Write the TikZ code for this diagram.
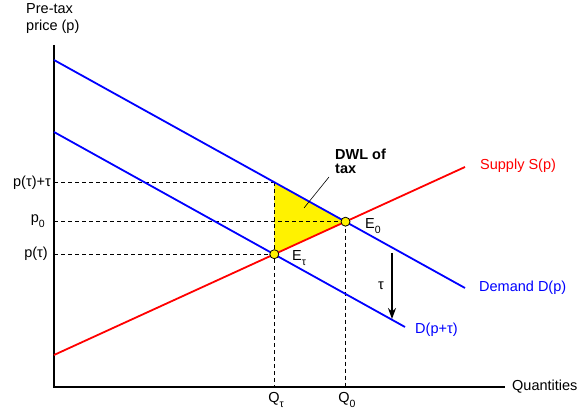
\documentclass[tikz,border=0pt]{standalone}
\usepackage{fontspec}
\setmainfont{Liberation Sans}
\usetikzlibrary{arrows.meta}
\newcommand\sbs[1]{\raisebox{-0.35em}{\fontsize{10.5}{10.5}\selectfont #1}}
\begin{document}
\begin{tikzpicture}[x=1pt,y=-1pt,
  axis/.style={line width=1.4pt},
  curveline/.style={line width=1.8pt},
  guide/.style={line width=0.9pt,dash pattern=on 4pt off 3pt},
  lbl/.style={font=\fontsize{14.5}{15}\selectfont,inner sep=1pt},
  dot/.style={circle,draw=black,fill=yellow,minimum size=9pt,inner sep=0pt,line width=0.8pt}]
\useasboundingbox (0,0) rectangle (584,411);
% axes
\coordinate (O) at (54,387);
\coordinate (ytop) at (54,45);
\coordinate (xend) at (505,387);
\draw[axis] (ytop) -- (O) -- (xend);
% key points
\coordinate (dA) at (54,60);
\coordinate (dB) at (465,288);
\coordinate (tA) at (54,132);
\coordinate (tB) at (405,327);
\coordinate (sA) at (54,355);
\coordinate (sB) at (465,167);
\coordinate (E0) at (345.5,221.7);
\coordinate (Et) at (274.3,254.2);
\coordinate (Pt) at (274.3,182.2);
% DWL triangle
\fill[yellow] (Pt) -- (E0) -- (Et) -- cycle;
% guides
\coordinate (yPt) at (54,182.2);
\coordinate (yE0) at (54,221.7);
\coordinate (yEt) at (54,254.2);
\coordinate (xEt) at (274.3,387);
\coordinate (xE0) at (345.5,387);
\draw[guide] (yPt) -- (Pt);
\draw[guide] (yE0) -- (E0);
\draw[guide] (yEt) -- (Et);
\draw[guide] (Pt) -- (xEt);
\draw[guide] (E0) -- (xE0);
% curves
\draw[curveline,blue] (dA) -- (dB);
\draw[curveline,blue] (tA) -- (tB);
\draw[curveline,red] (sA) -- (sB);
% points
\node[dot] (nE0) at (E0) {};
\node[dot] (nEt) at (Et) {};
% labels
\node[lbl,anchor=north west,align=left,font=\fontsize{14.5}{17}\selectfont] (ylab) at (25,2) {Pre-tax\\price (p)};
\node[lbl,anchor=west] (xlab) at (511,387) {Quantities};
\node[lbl,anchor=east] (l1) at (52,183) {p(τ)+τ};
\node[lbl,anchor=east] (l2) at (46,221) {p\sbs{0}};
\node[lbl,anchor=east] (l3) at (49,254) {p(τ)};
\node[lbl,anchor=north] (q1) at (276,391) {Q\sbs{τ}};
\node[lbl,anchor=north] (q2) at (347,391) {Q\sbs{0}};
\node[lbl,anchor=west] (e0) at (364,226) {E\sbs{0}};
\node[lbl,anchor=west] (et) at (291,258) {E\sbs{τ}};
\node[lbl,anchor=west,red] (sl) at (479,166) {Supply S(p)};
\node[lbl,anchor=west,blue] (dl) at (478,288) {Demand D(p)};
\node[lbl,anchor=west,blue] (dtl) at (414,330) {D(p+τ)};
\node[lbl,anchor=north west,align=left,font=\fontsize{14.5}{15}\selectfont\bfseries] (dwl) at (334,148) {DWL of\\[-1pt]tax};
\coordinate (lead) at (304,208);
\draw[line width=0.6pt] (329,177) -- (lead);
% tau arrow
\coordinate (aT) at (392,253);
\coordinate (aB) at (392,319);
\draw[line width=1.8pt,-{Stealth[length=11pt,width=8pt]}] (aT) -- (aB);
\node[lbl] (taul) at (381,286) {τ};
\end{tikzpicture}
\end{document}
